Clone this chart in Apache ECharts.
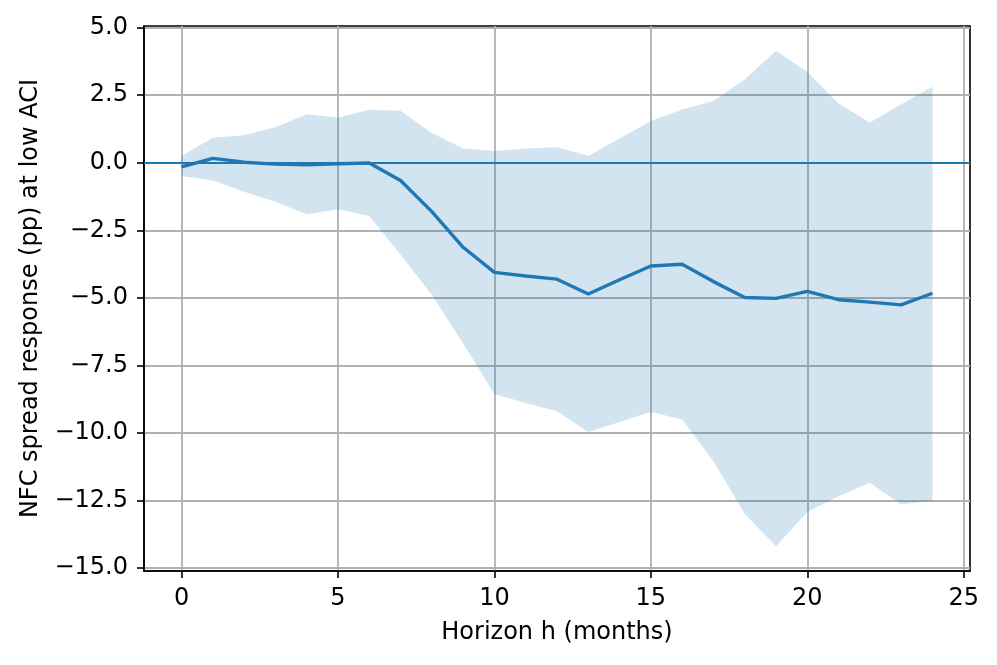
<!DOCTYPE html>
<html>
<head>
<meta charset="utf-8">
<script src="https://cdn.jsdelivr.net/npm/echarts@6/dist/echarts.min.js"></script>
<style>
html,body{margin:0;padding:0;background:#fff;}
#chart{width:997px;height:665px;}
</style>
</head>
<body>
<div id="chart"></div>
<script>
const horizons = [0,1,2,3,4,5,6,7,8,9,10,11,12,13,14,15,16,17,18,19,20,21,22,23,24];
const response = [-0.15,0.16,0.02,-0.05,-0.08,-0.04,-0.01,-0.66,-1.81,-3.13,-4.06,-4.19,-4.31,-4.86,-4.33,-3.82,-3.76,-4.40,-4.99,-5.02,-4.76,-5.07,-5.16,-5.26,-4.83];
const upperBand = [0.25,0.92,1.02,1.31,1.79,1.66,1.96,1.92,1.10,0.53,0.43,0.53,0.57,0.26,0.90,1.54,1.97,2.28,3.08,4.14,3.36,2.19,1.49,2.16,2.81];
const lowerBand = [-0.49,-0.66,-1.07,-1.44,-1.91,-1.72,-1.97,-3.41,-4.89,-6.69,-8.56,-8.89,-9.20,-9.97,-9.60,-9.23,-9.50,-11.05,-13.00,-14.19,-12.93,-12.34,-11.84,-12.65,-12.50];
const xTicks = [0,5,10,15,20,25];
const yTicks = [-15,-12.5,-10,-7.5,-5,-2.5,0,2.5,5];

const FONT = 'DejaVu Sans';
const chart = echarts.init(document.getElementById('chart'), null, {renderer:'canvas'});
const fmtY = v => (v < 0 ? '\u2212' : '') + Math.abs(v).toFixed(1);
const fmtX = v => (v < 0 ? '\u2212' : '') + Math.abs(v).toFixed(0);

chart.setOption({
  animation: false,
  backgroundColor: '#ffffff',
  grid: {left:144, right:27, top:26, bottom:94, show:true, borderColor:'#000', borderWidth:1.6, backgroundColor:'transparent'},
  xAxis: {
    type:'value', min:-1.2, max:25.2,
    name:'Horizon h (months)', nameLocation:'middle', nameGap:50,
    nameTextStyle:{fontFamily:FONT, fontSize:24, color:'#000'},
    axisLine:{show:true, onZero:false, lineStyle:{color:'#000', width:1.6}},
    axisTick:{show:true, length:7, lineStyle:{color:'#000', width:1.6}, customValues:xTicks},
    axisLabel:{fontFamily:FONT, fontSize:24, color:'#000', margin:16, customValues:xTicks, formatter:fmtX},
    splitLine:{show:true, lineStyle:{color:'#b0b0b0', width:1.8}}
  },
  yAxis: {
    type:'value', min:-15.11, max:5.06,
    name:'NFC spread response (pp) at low ACI', nameLocation:'middle', nameGap:101,
    nameTextStyle:{fontFamily:FONT, fontSize:24, color:'#000'},
    axisLine:{show:true, onZero:false, lineStyle:{color:'#000', width:1.6}},
    axisTick:{show:true, length:7, lineStyle:{color:'#000', width:1.6}, customValues:yTicks},
    axisLabel:{fontFamily:FONT, fontSize:24, color:'#000', margin:16, customValues:yTicks, formatter:fmtY},
    splitLine:{show:true, lineStyle:{color:'#b0b0b0', width:1.8}}
  },
  series: [
    {
      type:'custom', z:1, silent:true, clip:true,
      data: horizons.map((h,i)=>[h, lowerBand[i], upperBand[i]]),
      encode:{x:0, y:[1,2]},
      renderItem: function(params, api){
        if (params.dataIndex !== 0) return null;
        const pts = [];
        for (let i=0;i<horizons.length;i++) pts.push(api.coord([horizons[i], upperBand[i]]));
        for (let i=horizons.length-1;i>=0;i--) pts.push(api.coord([horizons[i], lowerBand[i]]));
        return {type:'polygon', shape:{points:pts}, style:{fill:'rgba(31,119,180,0.2)', stroke:null}};
      }
    },
    {
      type:'line', z:3, silent:true, showSymbol:false,
      data: horizons.map((h,i)=>[h, response[i]]),
      lineStyle:{color:'#1f77b4', width:3.4},
      itemStyle:{color:'#1f77b4'},
      markLine:{
        silent:true, symbol:['none','none'], animation:false,
        label:{show:false},
        lineStyle:{color:'#1f77b4', width:2, type:'solid'},
        emphasis:{disabled:true},
        data:[{yAxis:0}]
      }
    }
  ]
});
</script>
</body>
</html>
